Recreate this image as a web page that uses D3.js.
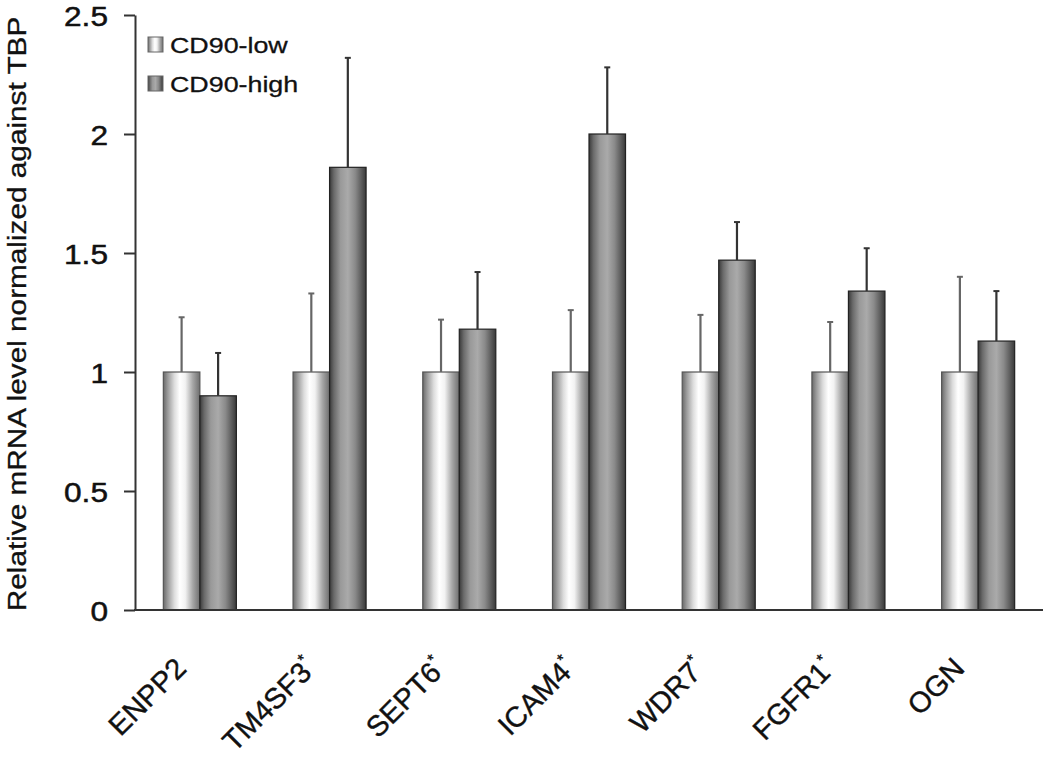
<!DOCTYPE html>
<html><head><meta charset="utf-8">
<script src="https://cdn.jsdelivr.net/npm/d3@7"></script>
<style>body{margin:0;background:#fff}svg{display:block}text{font-family:"Liberation Sans",Arial,sans-serif}</style>
</head><body><svg id="c" width="1050" height="762"></svg>
<script>
const categories = ["ENPP2","TM4SF3","SEPT6","ICAM4","WDR7","FGFR1","OGN"];
const starred = [false,true,true,true,true,true,false];
const seriesNames = ["CD90-low","CD90-high"];
const lowValues = [1,1,1,1,1,1,1];
const highValues = [0.90,1.86,1.18,2.00,1.47,1.34,1.13];
const lowErrTop = [1.23,1.33,1.22,1.26,1.24,1.21,1.40];
const highErrTop = [1.08,2.32,1.42,2.28,1.63,1.52,1.34];
const yTicks = [0,0.5,1,1.5,2,2.5];

const svg = d3.select("#c");
const x0 = 135, x1 = 1043, yTop = 15, yBot = 610;
const y = d3.scaleLinear().domain([0,2.5]).range([yBot,yTop]);
const x = d3.scaleBand().domain(categories).range([x0,x1]).paddingInner(0.437).paddingOuter(0.2185);
const xs = d3.scaleBand().domain(seriesNames).range([0,x.bandwidth()]);

const defs = svg.append("defs");
function grad(id, stops){
  const g = defs.append("linearGradient").attr("id",id).attr("x1","0").attr("x2","1").attr("y1","0").attr("y2","0");
  stops.forEach(s=>g.append("stop").attr("offset",s[0]).attr("stop-color",s[1]));
}
grad("gLow",[[0,"#6a6a6a"],[0.12,"#9a9a9a"],[0.3,"#dcdcdc"],[0.45,"#ffffff"],[0.6,"#f2f2f2"],[0.8,"#a8a8a8"],[1,"#6e6e6e"]]);
grad("gHigh",[[0,"#3a3a3a"],[0.12,"#6a6a6a"],[0.3,"#999"],[0.5,"#aaaaaa"],[0.7,"#8a8a8a"],[0.88,"#5a5a5a"],[1,"#3a3a3a"]]);

const data = categories.map((c,i)=>({c,i,vals:[
  {s:"CD90-low",v:lowValues[i],e:lowErrTop[i],fill:"url(#gLow)",ec:"#666"},
  {s:"CD90-high",v:highValues[i],e:highErrTop[i],fill:"url(#gHigh)",ec:"#333"}]}));

const groups = svg.selectAll("g.grp").data(data).join("g").attr("class","grp")
  .attr("transform",d=>`translate(${x(d.c)},0)`);
groups.selectAll("rect").data(d=>d.vals).join("rect")
  .attr("x",d=>xs(d.s)).attr("width",xs.bandwidth())
  .attr("y",d=>y(d.v)).attr("height",d=>y(0)-y(d.v))
  .attr("fill",d=>d.fill).attr("stroke",d=>d.s==="CD90-low"?"#555":"#222").attr("stroke-width",1.2);
groups.selectAll("line.err").data(d=>d.vals).join("line").attr("class","err")
  .attr("x1",d=>xs(d.s)+xs.bandwidth()/2).attr("x2",d=>xs(d.s)+xs.bandwidth()/2)
  .attr("y1",d=>y(d.v)).attr("y2",d=>y(d.e)).attr("stroke",d=>d.ec).attr("stroke-width",2.2);
groups.selectAll("line.cap").data(d=>d.vals).join("line").attr("class","cap")
  .attr("x1",d=>xs(d.s)+xs.bandwidth()/2-3).attr("x2",d=>xs(d.s)+xs.bandwidth()/2+3)
  .attr("y1",d=>y(d.e)).attr("y2",d=>y(d.e)).attr("stroke",d=>d.ec).attr("stroke-width",2);

// y axis
const ya = svg.append("g").attr("transform",`translate(${x0},0)`)
  .call(d3.axisLeft(y).tickValues(yTicks).tickFormat(d=>d).tickSize(11).tickSizeOuter(0));
ya.select(".domain").attr("stroke","#333").attr("stroke-width",2);
ya.selectAll(".tick line").attr("stroke","#333").attr("stroke-width",2);
ya.selectAll(".tick text").attr("font-size",28).attr("fill","#111").attr("stroke","#111").attr("stroke-width",0.5)
  .attr("x",0).attr("dy","0.36em").attr("text-anchor","end")
  .attr("transform","translate(-27,0) scale(1.13,1)");

// x axis baseline
svg.append("line").attr("x1",x0-1).attr("x2",x1).attr("y1",yBot).attr("y2",yBot).attr("stroke","#333").attr("stroke-width",2.2);

// category labels
const lab = svg.selectAll("text.cat").data(categories).join("text").attr("class","cat")
  .attr("transform",c=>`translate(${x(c)+x.bandwidth()/2-12},${670}) rotate(-45)`)
  .attr("text-anchor","end").attr("font-size",29).attr("fill","#111").attr("stroke","#111").attr("stroke-width",0.4);
lab.text(c=>c);
lab.filter((c,i)=>starred[i]).append("tspan").attr("font-size",16).attr("dy","-0.8em").text("*");

// y label
svg.append("text").attr("transform",`translate(26,${314}) rotate(-90) scale(1.19,1)`).attr("text-anchor","middle")
  .attr("font-size",25).attr("fill","#111").attr("stroke","#111").attr("stroke-width",0.3)
  .text("Relative mRNA level normalized against TBP");

// legend
const leg = svg.append("g").attr("transform","translate(148,37)");
seriesNames.forEach((s,i)=>{
  const g = leg.append("g").attr("transform",`translate(0,${i*39})`);
  g.append("rect").attr("width",15).attr("height",15).attr("fill",i?"url(#gHigh)":"url(#gLow)").attr("stroke","#666");
  g.append("text").attr("transform","translate(22,16) scale(1.22,1)").attr("font-size",22).attr("fill","#111")
    .attr("stroke","#111").attr("stroke-width",0.3).text(s);
});
</script></body></html>
